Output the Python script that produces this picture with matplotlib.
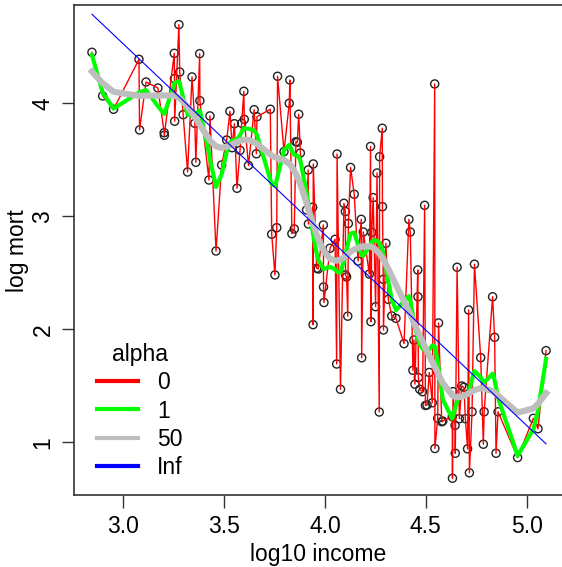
import numpy as np
import matplotlib.pyplot as plt
from matplotlib.lines import Line2D

plt.rcParams['font.family'] = ['Liberation Sans', 'DejaVu Sans']

# log10 income, sorted
income = [2.845, 2.898, 2.952, 3.078, 3.081, 3.113, 3.172, 3.203, 3.204, 3.253,
          3.254, 3.255, 3.276, 3.280, 3.297, 3.319, 3.341, 3.355, 3.360, 3.379,
          3.380, 3.425, 3.430, 3.460, 3.488, 3.513, 3.529, 3.540, 3.551, 3.564,
          3.579, 3.587, 3.598, 3.600, 3.621, 3.649, 3.660, 3.663, 3.729, 3.736,
          3.752, 3.761, 3.765, 3.797, 3.823, 3.826, 3.836, 3.848, 3.856, 3.863,
          3.870, 3.878, 3.909, 3.917, 3.918, 3.939, 3.941, 3.942, 3.959, 3.967,
          3.992, 3.993, 3.995, 4.025, 4.050, 4.058, 4.060, 4.077, 4.094, 4.101,
          4.102, 4.107, 4.113, 4.116, 4.127, 4.145, 4.164, 4.180, 4.182, 4.190,
          4.220, 4.226, 4.228, 4.232, 4.239, 4.251, 4.258, 4.269, 4.271, 4.284,
          4.285, 4.289, 4.290, 4.302, 4.314, 4.331, 4.352, 4.392, 4.416, 4.423,
          4.436, 4.441, 4.446, 4.460, 4.461, 4.463, 4.470, 4.484, 4.494, 4.498,
          4.506, 4.517, 4.532, 4.544, 4.545, 4.559, 4.563, 4.579, 4.584, 4.631,
          4.632, 4.635, 4.645, 4.646, 4.655, 4.666, 4.678, 4.689, 4.696, 4.707,
          4.712, 4.716, 4.729, 4.741, 4.772, 4.785, 4.789, 4.831, 4.841, 4.848,
          4.858, 4.955, 5.033, 5.056, 5.096]

# log mortality
mort = [4.451, 4.065, 3.947, 4.389, 3.764, 4.188, 4.135, 3.740, 3.717, 4.442,
        4.218, 3.841, 4.696, 4.277, 3.899, 3.392, 4.233, 3.823, 3.478, 4.439,
        4.023, 3.321, 3.888, 2.693, 3.454, 3.675, 3.929, 3.607, 3.819, 3.248,
        3.584, 3.823, 4.106, 3.858, 3.450, 3.943, 3.553, 3.881, 3.947, 2.841,
        2.481, 2.899, 4.239, 3.572, 4.000, 4.206, 2.846, 2.888, 3.660, 3.655,
        3.903, 3.560, 3.056, 3.410, 2.932, 3.080, 2.041, 3.463, 2.540, 2.534,
        2.923, 2.374, 2.237, 2.717, 2.796, 1.693, 3.551, 1.469, 3.115, 3.042,
        2.481, 2.463, 2.116, 2.936, 3.432, 3.195, 2.604, 2.973, 1.748, 2.861,
        2.489, 3.618, 2.067, 2.858, 3.165, 2.200, 3.383, 1.268, 3.527, 3.779,
        3.085, 2.442, 1.994, 2.761, 2.265, 2.118, 2.097, 1.873, 2.973, 2.861,
        1.637, 1.905, 1.514, 2.525, 2.288, 1.573, 1.469, 1.448, 3.097, 1.326,
        1.330, 1.618, 1.350, 4.171, 0.945, 1.212, 2.056, 1.182, 1.188, 1.227,
        0.682, 1.448, 1.150, 0.903, 2.549, 1.209, 1.498, 1.487, 1.209, 0.942,
        2.171, 0.730, 1.270, 2.576, 1.749, 0.983, 1.270, 2.288, 1.929, 0.903,
        1.270, 0.865, 1.212, 1.120, 1.811]

alphas = ['0', '1', '50', 'Inf']
colors = ['#FF0000', '#00FF00', '#BEBEBE', '#0000FF']
widths = [1.0, 3.0, 4.5, 0.8]

x = np.array(income)
y = np.array(mort)


def spline_smooth(x, y, lam):
    # cubic smoothing spline values at the data points
    h = np.diff(x)
    n = len(x)
    Q = np.zeros((n, n - 2))
    R = np.zeros((n - 2, n - 2))
    for j in range(n - 2):
        Q[j, j] = 1 / h[j]
        Q[j + 1, j] = -1 / h[j] - 1 / h[j + 1]
        Q[j + 2, j] = 1 / h[j + 1]
        R[j, j] = (h[j] + h[j + 1]) / 3
        if j < n - 3:
            R[j, j + 1] = R[j + 1, j] = h[j + 1] / 6
    K = Q @ np.linalg.solve(R, Q.T)
    return np.linalg.solve(np.eye(n) + lam * K, y)


scale = 1.5e-5
b, a = np.polyfit(x, y, 1)
fits = [y, spline_smooth(x, y, 1 * scale), spline_smooth(x, y, 50 * scale), a + b * x]

fig = plt.figure(figsize=(5.62, 5.67), dpi=100)
ax = fig.add_axes([74 / 562, 71.7 / 567, 488 / 562, 490 / 567])

ax.scatter(x, y, s=34, facecolors='none', edgecolors='#222222', linewidths=1.0, zorder=2)
for f, c, w in zip(fits, colors, widths):
    ax.plot(x, f, color=c, lw=w, zorder=3)

ax.set_xlim(2.756, 5.175)
ax.set_ylim(0.531, 4.867)
ax.set_xticks([3.0, 3.5, 4.0, 4.5, 5.0])
ax.set_xticklabels(['3.0', '3.5', '4.0', '4.5', '5.0'])
ax.set_yticks([1, 2, 3, 4])
ax.tick_params(labelsize=16.5, length=9, width=1, pad=5, color='#333333')
for lab in ax.get_yticklabels():
    lab.set_rotation(90)
    lab.set_va('center')
ax.spines['right'].set_visible(False)
for s in ['left', 'top', 'bottom']:
    ax.spines[s].set_color('#333333')
    ax.spines[s].set_linewidth(1.2)
ax.set_xlabel('log10 income', fontsize=16.5, labelpad=4)
ax.set_ylabel('log mort', fontsize=16.5, labelpad=1.5)

handles = [Line2D([], [], color=c, lw=3) for c in colors]
leg = ax.legend(handles, alphas, title='alpha', loc='lower left',
                bbox_to_anchor=(0.004, -0.008), frameon=False, fontsize=16.5,
                title_fontsize=16.5, handlelength=1.8, handletextpad=0.85,
                labelspacing=0.22)

fig.savefig('out.png', dpi=100)
